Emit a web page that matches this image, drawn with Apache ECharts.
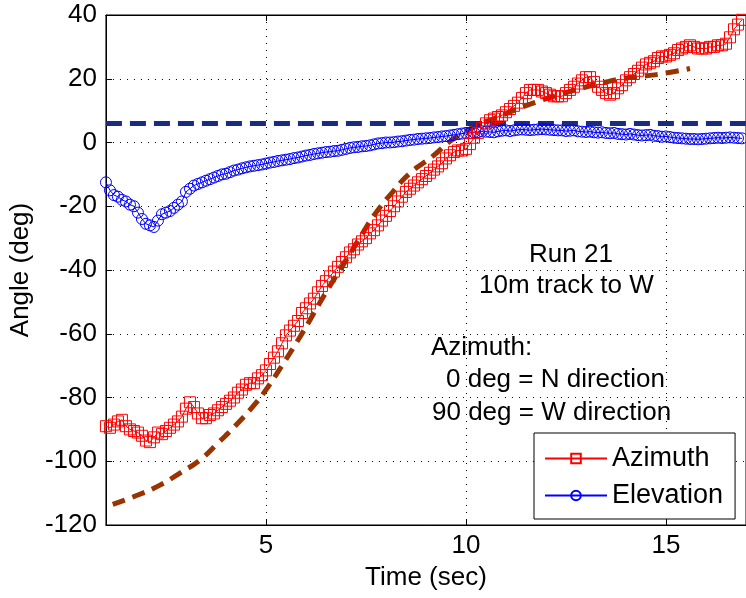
<!DOCTYPE html>
<html>
<head>
<meta charset="utf-8">
<title>Run 21</title>
<script src="https://cdn.jsdelivr.net/npm/echarts@6/dist/echarts.min.js"></script>
<style>
  html, body { margin: 0; padding: 0; background: #fff; }
  #chart { width: 746px; height: 598px; }
</style>
</head>
<body>
<div id="chart"></div>
<script>
// sample times (sec)
var timeSec = [
  1.0, 1.1, 1.2, 1.3, 1.4, 1.5, 1.6, 1.7, 1.8, 1.9,
  2.0, 2.1, 2.2, 2.3, 2.4, 2.5, 2.6, 2.7, 2.8, 2.9,
  3.0, 3.1, 3.2, 3.3, 3.4, 3.5, 3.6, 3.7, 3.8, 3.9,
  4.0, 4.1, 4.2, 4.3, 4.4, 4.5, 4.6, 4.7, 4.8, 4.9,
  5.0, 5.1, 5.2, 5.3, 5.4, 5.5, 5.6, 5.7, 5.8, 5.9,
  6.0, 6.1, 6.2, 6.3, 6.4, 6.5, 6.6, 6.7, 6.8, 6.9,
  7.0, 7.1, 7.2, 7.3, 7.4, 7.5, 7.6, 7.7, 7.8, 7.9,
  8.0, 8.1, 8.2, 8.3, 8.4, 8.5, 8.6, 8.7, 8.8, 8.9,
  9.0, 9.1, 9.2, 9.3, 9.4, 9.5, 9.6, 9.7, 9.8, 9.9,
  10.0, 10.1, 10.2, 10.3, 10.4, 10.5, 10.6, 10.7, 10.8, 10.9,
  11.0, 11.1, 11.2, 11.3, 11.4, 11.5, 11.6, 11.7, 11.8, 11.9,
  12.0, 12.1, 12.2, 12.3, 12.4, 12.5, 12.6, 12.7, 12.8, 12.9,
  13.0, 13.1, 13.2, 13.3, 13.4, 13.5, 13.6, 13.7, 13.8, 13.9,
  14.0, 14.1, 14.2, 14.3, 14.4, 14.5, 14.6, 14.7, 14.8, 14.9,
  15.0, 15.1, 15.2, 15.3, 15.4, 15.5, 15.6, 15.7, 15.8, 15.9,
  16.0, 16.1, 16.2, 16.3, 16.4, 16.5, 16.6, 16.7, 16.8, 16.9
];

// measured azimuth (deg)
var azimuthDeg = [
  -89, -89.5, -88.5, -87.5, -87, -89, -90, -90.5, -91, -92,
  -93.5, -94, -92.5, -91, -91.5, -90.5, -89.5, -88.5, -87.5, -86,
  -83.5, -81.5, -83, -85, -86.5, -86.5, -85.5, -85, -84, -83,
  -82, -81, -80, -78.5, -77.5, -76, -75.5, -75.5, -74, -73,
  -71.5, -69.5, -67.5, -65.5, -63, -60.5, -59, -57.5, -56, -53.5,
  -52, -50.5, -49, -47, -45, -43.5, -42, -40.5, -39, -37.5,
  -36, -34.5, -33.5, -32, -31, -30, -28.5, -27.5, -26, -24.5,
  -23, -21.5, -20, -18.5, -17, -15.5, -14.5, -13.5, -12.5, -11.5,
  -10.5, -9.5, -8.5, -7.5, -6.5, -5, -4, -3, -2.5, -2.5,
  -2, -0.5, 1.5, 3, 4.5, 6, 7, 7.5, 8, 8.5,
  9.5, 10.5, 11.5, 12.5, 14, 15.5, 16.5, 16.5, 16.5, 16,
  15.5, 15, 14.5, 14.5, 14.5, 15.5, 16.5, 17.5, 18.5, 19.5,
  20.5, 20.5, 19, 17.5, 16.5, 15.5, 15, 15.5, 17, 18,
  19.5, 20.5, 21.5, 22.5, 23.5, 24.5, 25, 25.5, 26.5, 27,
  27, 27.5, 28, 29, 29.5, 30, 30.5, 30, 29.5, 29.5,
  29.5, 30, 30, 30.5, 30.5, 31, 33, 35.5, 37, 38.5
];

// measured elevation (deg)
var elevationDeg = [
  -12.5, -15, -16.5, -17, -18, -18.5, -19.5, -20, -22, -24,
  -25.5, -26, -26.5, -24.5, -22.5, -22, -21.5, -20.5, -19.5, -18.5,
  -15.5, -14.5, -13.5, -13, -12.5, -12, -11.5, -11, -10.5, -10,
  -9.8, -9.3, -8.8, -8.5, -8.1, -7.8, -7.5, -7.3, -7.1, -6.9,
  -6.6, -6.3, -6.1, -5.8, -5.6, -5.4, -5.2, -4.9, -4.7, -4.4,
  -4.1, -3.9, -3.6, -3.4, -3.2, -3, -2.9, -2.7, -2.6, -2.3,
  -2, -1.7, -1.5, -1.4, -1.2, -1.1, -0.9, -0.6, -0.3, -0.2,
  0, 0, 0.1, 0.3, 0.4, 0.6, 0.8, 0.9, 1.1, 1.2,
  1.3, 1.4, 1.6, 1.7, 1.9, 2, 2.2, 2.4, 2.6, 2.8,
  3, 3, 3.2, 3.3, 3.5, 3.4, 3.3, 3.2, 3.5, 3.7,
  3.8, 3.6, 3.8, 4, 4.1, 4, 3.9, 4, 4.1, 4.2,
  4.1, 4, 3.9, 3.8, 3.8, 3.6, 3.7, 3.8, 3.5, 3.4,
  3.3, 3.4, 3.2, 3.1, 3.2, 3, 2.9, 3, 2.7, 2.6,
  2.5, 2.7, 2.5, 2.3, 2.2, 2.3, 2.4, 2.1, 2, 1.8,
  1.9, 1.7, 1.5, 1.4, 1.3, 1.2, 1.1, 1.1, 1, 1.1,
  1.2, 1.3, 1.4, 1.5, 1.4, 1.5, 1.6, 1.5, 1.4, 1.3
];

// predicted azimuth for a 10m track to W, [time (sec), angle (deg)]
var azimuthFit = [
  [1.17, -113.5], [1.8, -110.6], [2.35, -107.5], [2.85, -103.7], [3.35, -99.6],
  [3.8, -94.3], [4.3, -88], [4.75, -81.7], [5.05, -76.7], [5.4, -70],
  [5.85, -61], [6.2, -53.5], [6.5, -47], [6.85, -40], [7.1, -35],
  [7.4, -28.8], [7.75, -22], [8.15, -15.8], [8.6, -9.6], [9.15, -4.5],
  [9.65, 0.8], [10.2, 4.9], [10.8, 8], [11.4, 11.1], [11.9, 13.3],
  [12.45, 15.5], [13.0, 17.4], [13.4, 18.7], [14.0, 20.2], [14.5, 20.9],
  [15.0, 21.8], [15.6, 23.2]
];

// predicted elevation (constant)
var elevationFit = [[1, 6], [17, 6]];

var xTicks = [5, 10, 15];

var font = 'Liberation Sans, Arial, sans-serif';

function pairs(xs, ys) {
  return xs.map(function(x, i) { return [x, ys[i]] });
}

var chart = echarts.init(document.getElementById('chart'));

chart.setOption({
  backgroundColor: '#fff',
  animation: false,
  textStyle: { fontFamily: font },
  grid: {
    left: 101,
    top: 15,
    width: 648,
    height: 510,
    show: true,
    borderColor: '#000',
    borderWidth: 1,
    backgroundColor: 'transparent'
  },
  legend: {
    orient: 'vertical',
    left: 534,
    top: 433,
    data: ['Azimuth', 'Elevation'],
    backgroundColor: '#fff',
    borderColor: '#000',
    borderWidth: 1,
    borderRadius: 0,
    padding: [12, 12, 10, 10],
    itemGap: 10,
    itemWidth: 62,
    itemHeight: 12,
    textStyle: { fontSize: 27, color: '#000', fontFamily: font }
  },
  xAxis: [{
    type: 'value',
    min: 1,
    max: 17,
    name: 'Time (sec)',
    nameLocation: 'middle',
    nameGap: 40,
    nameTextStyle: { fontSize: 26, color: '#000', fontFamily: font },
    axisLine: { onZero: false, lineStyle: { color: '#000', width: 1 } },
    axisTick: { inside: true, length: 6, customValues: xTicks, lineStyle: { color: '#000' } },
    axisLabel: { customValues: xTicks, fontSize: 26, color: '#000', margin: 8, fontFamily: font },
    splitLine: { show: true, lineStyle: { color: '#000', type: [1, 6], width: 1 } }
  }, {
    type: 'value',
    position: 'top',
    min: 1,
    max: 17,
    axisLine: { onZero: false, lineStyle: { color: '#000', width: 1 } },
    axisTick: { inside: true, length: 6, customValues: xTicks, lineStyle: { color: '#000' } },
    axisLabel: { show: false },
    splitLine: { show: false }
  }],
  yAxis: {
    type: 'value',
    min: -120,
    max: 40,
    interval: 20,
    name: 'Angle (deg)',
    nameLocation: 'middle',
    nameGap: 61,
    nameTextStyle: { fontSize: 26, color: '#000', fontFamily: font },
    axisLine: { show: true, onZero: false, lineStyle: { color: '#000', width: 1 } },
    axisTick: { show: true, inside: true, length: 6, lineStyle: { color: '#000' } },
    axisLabel: { fontSize: 26, color: '#000', margin: 9, fontFamily: font },
    splitLine: { show: true, lineStyle: { color: '#000', type: [1, 6], width: 1 } }
  },
  series: [{
    name: 'Elevation',
    type: 'line',
    data: pairs(timeSec, elevationDeg),
    symbol: 'circle',
    symbolSize: 11,
    showAllSymbol: true,
    lineStyle: { color: '#0000ff', width: 1 },
    itemStyle: { color: 'rgba(0,0,0,0)', borderColor: '#0000ff', borderWidth: 1 },
    emphasis: { disabled: true }
  }, {
    name: 'Azimuth',
    type: 'line',
    data: pairs(timeSec, azimuthDeg),
    symbol: 'rect',
    symbolSize: 11,
    showAllSymbol: true,
    lineStyle: { color: '#ff0000', width: 1 },
    itemStyle: { color: 'rgba(0,0,0,0)', borderColor: '#ff0000', borderWidth: 1 },
    emphasis: { disabled: true }
  }, {
    name: 'Azimuth fit',
    type: 'line',
    data: azimuthFit,
    smooth: true,
    showSymbol: false,
    lineStyle: { color: '#993300', width: 5, type: [13, 8] },
    emphasis: { disabled: true }
  }, {
    name: 'Elevation fit',
    type: 'line',
    data: elevationFit,
    showSymbol: false,
    lineStyle: { color: '#1a2b80', width: 5, type: [16, 8] },
    emphasis: { disabled: true }
  }],
  graphic: [
    { type: 'text', left: 529, top: 242, style: { text: 'Run 21', font: '26px ' + font, fill: '#000' } },
    { type: 'text', left: 479, top: 273, style: { text: '10m track to W', font: '26px ' + font, fill: '#000' } },
    { type: 'text', left: 431, top: 335, style: { text: 'Azimuth:', font: '26px ' + font, fill: '#000' } },
    { type: 'text', left: 446, top: 367, style: { text: '0 deg = N direction', font: '26px ' + font, fill: '#000' } },
    { type: 'text', left: 432, top: 400, style: { text: '90 deg = W direction', font: '26px ' + font, fill: '#000' } }
  ]
});
</script>
</body>
</html>
